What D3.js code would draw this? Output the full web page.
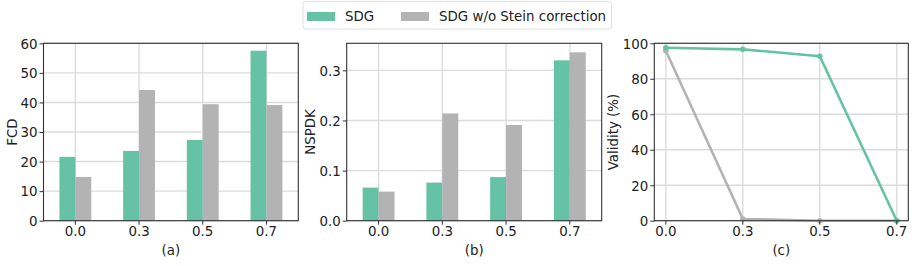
<!DOCTYPE html>
<html><head><meta charset="utf-8">
<script src="https://cdn.jsdelivr.net/npm/d3@7"></script>
<style>body{margin:0;background:#fff}svg{display:block}text{font-family:"DejaVu Sans",sans-serif;fill:#222}</style>
</head><body><svg id="c" width="914" height="266"></svg>
<script>
const categories = ["0.0","0.3","0.5","0.7"];
const seriesNames = ["SDG","SDG w/o Stein correction"];
const fcdSDG = [21.6, 23.6, 27.3, 57.5];
const fcdNoStein = [14.8, 44.2, 39.4, 39.1];
const nspdkSDG = [0.066, 0.076, 0.087, 0.320];
const nspdkNoStein = [0.058, 0.214, 0.191, 0.336];
const validSDG = [97.5, 96.6, 92.7, 0.0];
const validNoStein = [95.8, 1.0, 0.0, 0.0];
const fcdTicks = [0,10,20,30,40,50,60];
const nspdkTicks = [0.0,0.1,0.2,0.3];
const validTicks = [0,20,40,60,80,100];
const colors = ["#66c2a5","#b3b3b3"];

const svg = d3.select("#c");
const yTop = 43.3, yBot = 220.7;
const fs = 13.4;

function frame(g, x0, x1, y, ticks, xpos) {
  g.append("g").selectAll("line").data(ticks).join("line")
    .attr("x1",x0).attr("x2",x1).attr("y1",d=>y(d)).attr("y2",d=>y(d))
    .attr("stroke","#dcdcdc").attr("stroke-width",1.4);
  g.append("g").selectAll("line").data(categories).join("line")
    .attr("x1",(d,i)=>xpos(i)).attr("x2",(d,i)=>xpos(i)).attr("y1",yTop).attr("y2",yBot)
    .attr("stroke","#dcdcdc").attr("stroke-width",1.4);
}
function axesOver(g, x0, x1, y, ticks, fmt, xpos, ylabel, ylx, sub) {
  g.append("rect").attr("x",x0).attr("y",yTop).attr("width",x1-x0).attr("height",yBot-yTop)
    .attr("fill","none").attr("stroke","#333").attr("stroke-width",1.1);
  const ya = d3.axisLeft(y).tickValues(ticks).tickFormat(fmt).tickSize(4).tickPadding(2);
  const gy = g.append("g").attr("transform",`translate(${x0},0)`).call(ya);
  gy.select(".domain").remove();
  gy.selectAll("line").attr("stroke","#333");
  gy.selectAll("text").attr("font-size",fs).attr("fill","#222").attr("font-family","DejaVu Sans").attr("dy","0.36em");
  g.append("g").selectAll("line").data(categories).join("line")
    .attr("x1",(d,i)=>xpos(i)).attr("x2",(d,i)=>xpos(i)).attr("y1",yBot).attr("y2",yBot+4)
    .attr("stroke","#333");
  g.append("g").selectAll("text").data(categories).join("text")
    .attr("x",(d,i)=>xpos(i)).attr("y",236).attr("text-anchor","middle").attr("font-size",fs).text(d=>d);
  g.append("text").attr("transform",`translate(${ylx},${(yTop+yBot)/2}) rotate(-90)`)
    .attr("text-anchor","middle").attr("dy","0.36em").attr("font-size",fs).text(ylabel);
  g.append("text").attr("x",(x0+x1)/2).attr("y",255).attr("text-anchor","middle").attr("font-size",fs).text(sub);
}

function barPanel(x0, x1, vals, ymax, ticks, fmt, ylabel, ylx, sub) {
  const g = svg.append("g");
  const xb = d3.scaleLinear().domain([-0.5, 3.5]).range([x0, x1]);
  const y = d3.scaleLinear().domain([0, ymax]).range([yBot, yTop]);
  frame(g, x0, x1, y, ticks, i=>xb(i));
  const bw = 0.25;
  vals.forEach((arr, s) => {
    g.append("g").selectAll("rect").data(arr).join("rect")
      .attr("x",(d,i)=>xb(i + (s===0 ? -bw : 0)))
      .attr("width", xb(bw)-xb(0))
      .attr("y", d=>y(d)).attr("height", d=>y(0)-y(d))
      .attr("fill", colors[s]);
  });
  axesOver(g, x0, x1, y, ticks, fmt, i=>xb(i), ylabel, ylx, sub);
}

barPanel(43.5, 298.3, [fcdSDG, fcdNoStein], 60, fcdTicks, d3.format("d"), "FCD", 12, "(a)");
barPanel(346.7, 601.7, [nspdkSDG, nspdkNoStein], 0.354, nspdkTicks, d3.format(".1f"), "NSPDK", 310, "(b)");

(function(){
  const x0 = 654.3, x1 = 908.3;
  const g = svg.append("g");
  const xl = d3.scaleLinear().domain([-0.15, 3.15]).range([x0, x1]);
  const y = d3.scaleLinear().domain([0, 100]).range([yBot, yTop]);
  frame(g, x0, x1, y, validTicks, i=>xl(i));
  const line = d3.line().x((d,i)=>xl(i)).y(d=>y(d));
  [validNoStein, validSDG].forEach((arr, k) => {
    const c = k===0 ? colors[1] : colors[0];
    g.append("path").datum(arr).attr("d", line).attr("fill","none").attr("stroke", c).attr("stroke-width",2.6);
    g.append("g").selectAll("circle").data(arr).join("circle")
      .attr("cx",(d,i)=>xl(i)).attr("cy",d=>y(d)).attr("r",2.8).attr("fill",c);
  });
  axesOver(g, x0, x1, y, validTicks, d3.format("d"), i=>xl(i), "Validity (%)", 613, "(c)");
})();

const lg = svg.append("g");
lg.append("rect").attr("x",303).attr("y",1.5).attr("width",308.5).attr("height",27.5).attr("rx",3)
  .attr("fill","#fff").attr("stroke","#e0e0e0").attr("stroke-width",1);
const lx = [307, 401];
seriesNames.forEach((n, i) => {
  lg.append("rect").attr("x",lx[i]).attr("y",12).attr("width",28).attr("height",9).attr("fill",colors[i]);
  lg.append("text").attr("x",lx[i]+38).attr("y",21).attr("font-size",fs).text(n);
});
</script></body></html>
